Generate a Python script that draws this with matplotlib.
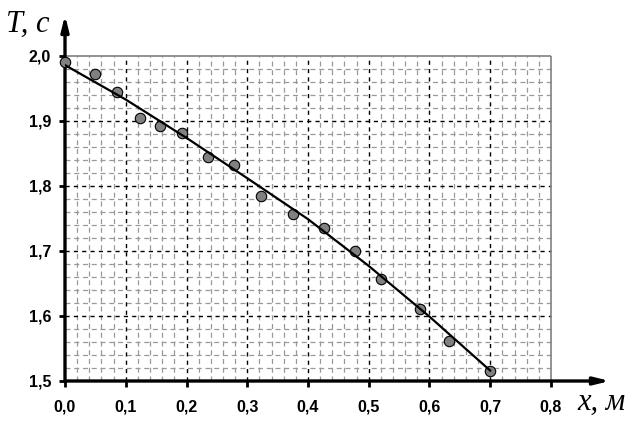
import numpy as np
import matplotlib.pyplot as plt

# данные: координата x (м) и период T (с)
x_data = [0.0, 0.049, 0.086, 0.123, 0.156, 0.193, 0.235, 0.278, 0.322,
          0.375, 0.426, 0.477, 0.520, 0.584, 0.632, 0.700]
T_data = [1.990, 1.973, 1.944, 1.905, 1.892, 1.881, 1.844, 1.833, 1.784,
          1.757, 1.736, 1.700, 1.657, 1.610, 1.562, 1.516]

# аппроксимирующая кривая
x_fit = [0.0, 0.1, 0.2, 0.3, 0.4, 0.5, 0.6, 0.7]
T_fit = [1.986, 1.933, 1.874, 1.812, 1.749, 1.677, 1.599, 1.516]

x_ticks = [0.0, 0.1, 0.2, 0.3, 0.4, 0.5, 0.6, 0.7, 0.8]
T_ticks = [1.5, 1.6, 1.7, 1.8, 1.9, 2.0]

plt.rcParams['font.family'] = ['Liberation Sans', 'DejaVu Sans']

fig = plt.figure(figsize=(6.42, 4.28), dpi=100)
W, H = 642, 428
# оси в пикселях: x 65..610, y 15..381
ax = fig.add_axes([65 / W, 1 - 381 / H, (610 - 65) / W, (381 - 15) / H])
px_x = 607.5   # пикселей на 1 м
px_y = 650.0   # пикселей на 1 с
ax.set_xlim(0, (610 - 65) / px_x)
ax.set_ylim(1.5, 1.5 + (381 - 15) / px_y)

for s in ax.spines.values():
    s.set_visible(False)

# мелкая сетка
minor_x = [i * 0.02 for i in range(1, 40) if i % 5 != 0]
minor_T = [1.5 + i * 0.02 for i in range(1, 25) if i % 5 != 0]
ax.vlines(minor_x, 1.5, 2.0, colors='#999999', linestyles=(0, (4, 3)), lw=0.9, zorder=1)
ax.hlines(minor_T, 0, 0.8, colors='#999999', linestyles=(0, (4, 3)), lw=0.9, zorder=1)
# основная сетка
ax.vlines(x_ticks[1:-1], 1.5, 2.0, colors='black', linestyles=(0, (3, 3)), lw=1.0, zorder=2)
ax.hlines(T_ticks[1:-1], 0, 0.8, colors='black', linestyles=(0, (3, 3)), lw=1.0, zorder=2)
# рамка сетки
ax.hlines([2.0], 0, 0.8, colors='#808080', lw=1.2, zorder=2)
ax.vlines([0.8], 1.5, 2.0, colors='#808080', lw=1.2, zorder=2)

# оси со стрелками
xmax = ax.get_xlim()[1]
ymax = ax.get_ylim()[1]
ax.annotate('', xy=(xmax, 1.5), xytext=(0, 1.5),
            arrowprops=dict(arrowstyle='-|>,head_length=0.9,head_width=0.22',
                            color='black', lw=2.4, shrinkA=0, shrinkB=0), zorder=5)
ax.annotate('', xy=(0, ymax), xytext=(0, 1.5),
            arrowprops=dict(arrowstyle='-|>,head_length=0.9,head_width=0.22',
                            color='black', lw=2.4, shrinkA=0, shrinkB=0), zorder=5)

# точки и кривая
ax.plot(x_data, T_data, 'o', ms=7.5, mfc='#808080', mec='black', mew=0.8,
        zorder=6, clip_on=False)
ax.plot(x_fit, T_fit, '-', color='black', lw=1.6, zorder=7)

ax.set_xticks(x_ticks)
ax.set_xticklabels([f'{v:.1f}'.replace('.', ',') for v in x_ticks],
                   fontsize=11.5, fontweight='bold')
ax.set_yticks(T_ticks)
ax.set_yticklabels([f'{v:.1f}'.replace('.', ',') for v in T_ticks],
                   fontsize=11.5, fontweight='bold')
ax.tick_params(axis='x', direction='out', length=4, width=2, pad=9)
ax.tick_params(axis='y', direction='out', length=4, width=2, pad=6)

fig.text(6 / W, 1 - 24 / H, 'T, c', fontsize=22, style='italic',
         family='Liberation Serif', va='center', ha='left')
fig.text(577 / W, 1 - 402 / H, 'x, м', fontsize=22, style='italic',
         family='Liberation Serif', va='center', ha='left')

fig.savefig('out.png', dpi=100)
